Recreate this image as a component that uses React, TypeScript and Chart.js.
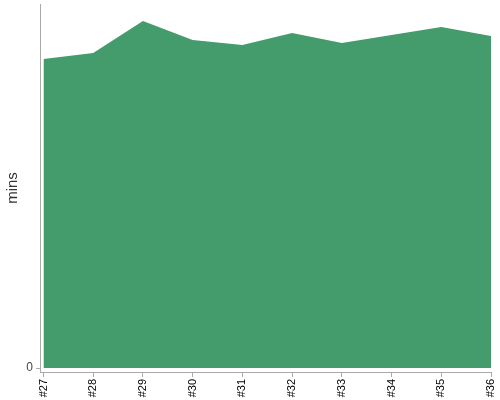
import React, { useEffect, useRef } from "react";
import { Chart, registerables } from "chart.js";

Chart.register(...registerables);

const categories = ["#27", "#28", "#29", "#30", "#31", "#32", "#33", "#34", "#35", "#36"];
const minsValues = [30.9, 31.5, 34.7, 32.8, 32.3, 33.5, 32.5, 33.3, 34.1, 33.2];
const yTicks = [0];

export default function App() {
  const ref = useRef<HTMLCanvasElement | null>(null);
  useEffect(() => {
    document.body.style.margin = "0";
    const ctx = ref.current!;
    const chart = new Chart(ctx, {
      type: "line",
      data: {
        datasets: [
          {
            data: minsValues.map((v, i) => ({ x: i, y: v })),
            fill: "origin",
            backgroundColor: "rgb(68,155,107)",
            borderWidth: 0,
            borderColor: "rgb(68,155,107)",
            pointRadius: 0,
            tension: 0,
          },
        ],
      },
      options: {
        animation: false,
        responsive: false,
        layout: { padding: { top: 4, right: 9, left: 0, bottom: 0 } },
        plugins: { legend: { display: false }, tooltip: { enabled: false } },
        scales: {
          x: {
            type: "linear",
            min: -0.07,
            max: categories.length - 1,
            afterBuildTicks: (s: any) => {
              s.ticks = categories.map((_, i) => ({ value: i }));
            },
            afterFit: (s: any) => {
              s.height = 28;
              s.paddingLeft = 0;
              s.paddingRight = 0;
            },
            ticks: {
              autoSkip: false,
              minRotation: 90,
              maxRotation: 90,
              padding: 2,
              color: "#000",
              font: { family: "Liberation Sans, Arial, sans-serif", size: 11 },
              callback: (v: any) => categories[Math.round(Number(v))] ?? "",
            },
            grid: { drawOnChartArea: false, drawTicks: true, tickLength: 5, color: "#aaa" },
            border: { display: true, color: "#aaa" },
          },
          y: {
            min: -0.4,
            max: 36.4,
            afterBuildTicks: (s: any) => {
              s.ticks = yTicks.map((v) => ({ value: v }));
            },
            afterFit: (s: any) => {
              s.width = 40;
              s.paddingTop = 0;
              s.paddingBottom = 0;
            },
            title: {
              display: true,
              text: "mins",
              color: "#333",
              padding: { top: 4, bottom: 0 },
              font: { family: "Liberation Sans, Arial, sans-serif", size: 15 },
            },
            ticks: {
              color: "#444",
              padding: 3,
              font: { family: "Liberation Sans, Arial, sans-serif", size: 12 },
            },
            grid: { drawOnChartArea: false, drawTicks: true, tickLength: 4, color: "#aaa" },
            border: { display: true, color: "#aaa" },
          },
        },
      },
    });
    return () => chart.destroy();
  }, []);
  return (
    <div style={{ width: 500, height: 400 }}>
      <canvas ref={ref} width={500} height={400} style={{ display: "block" }} />
    </div>
  );
}
